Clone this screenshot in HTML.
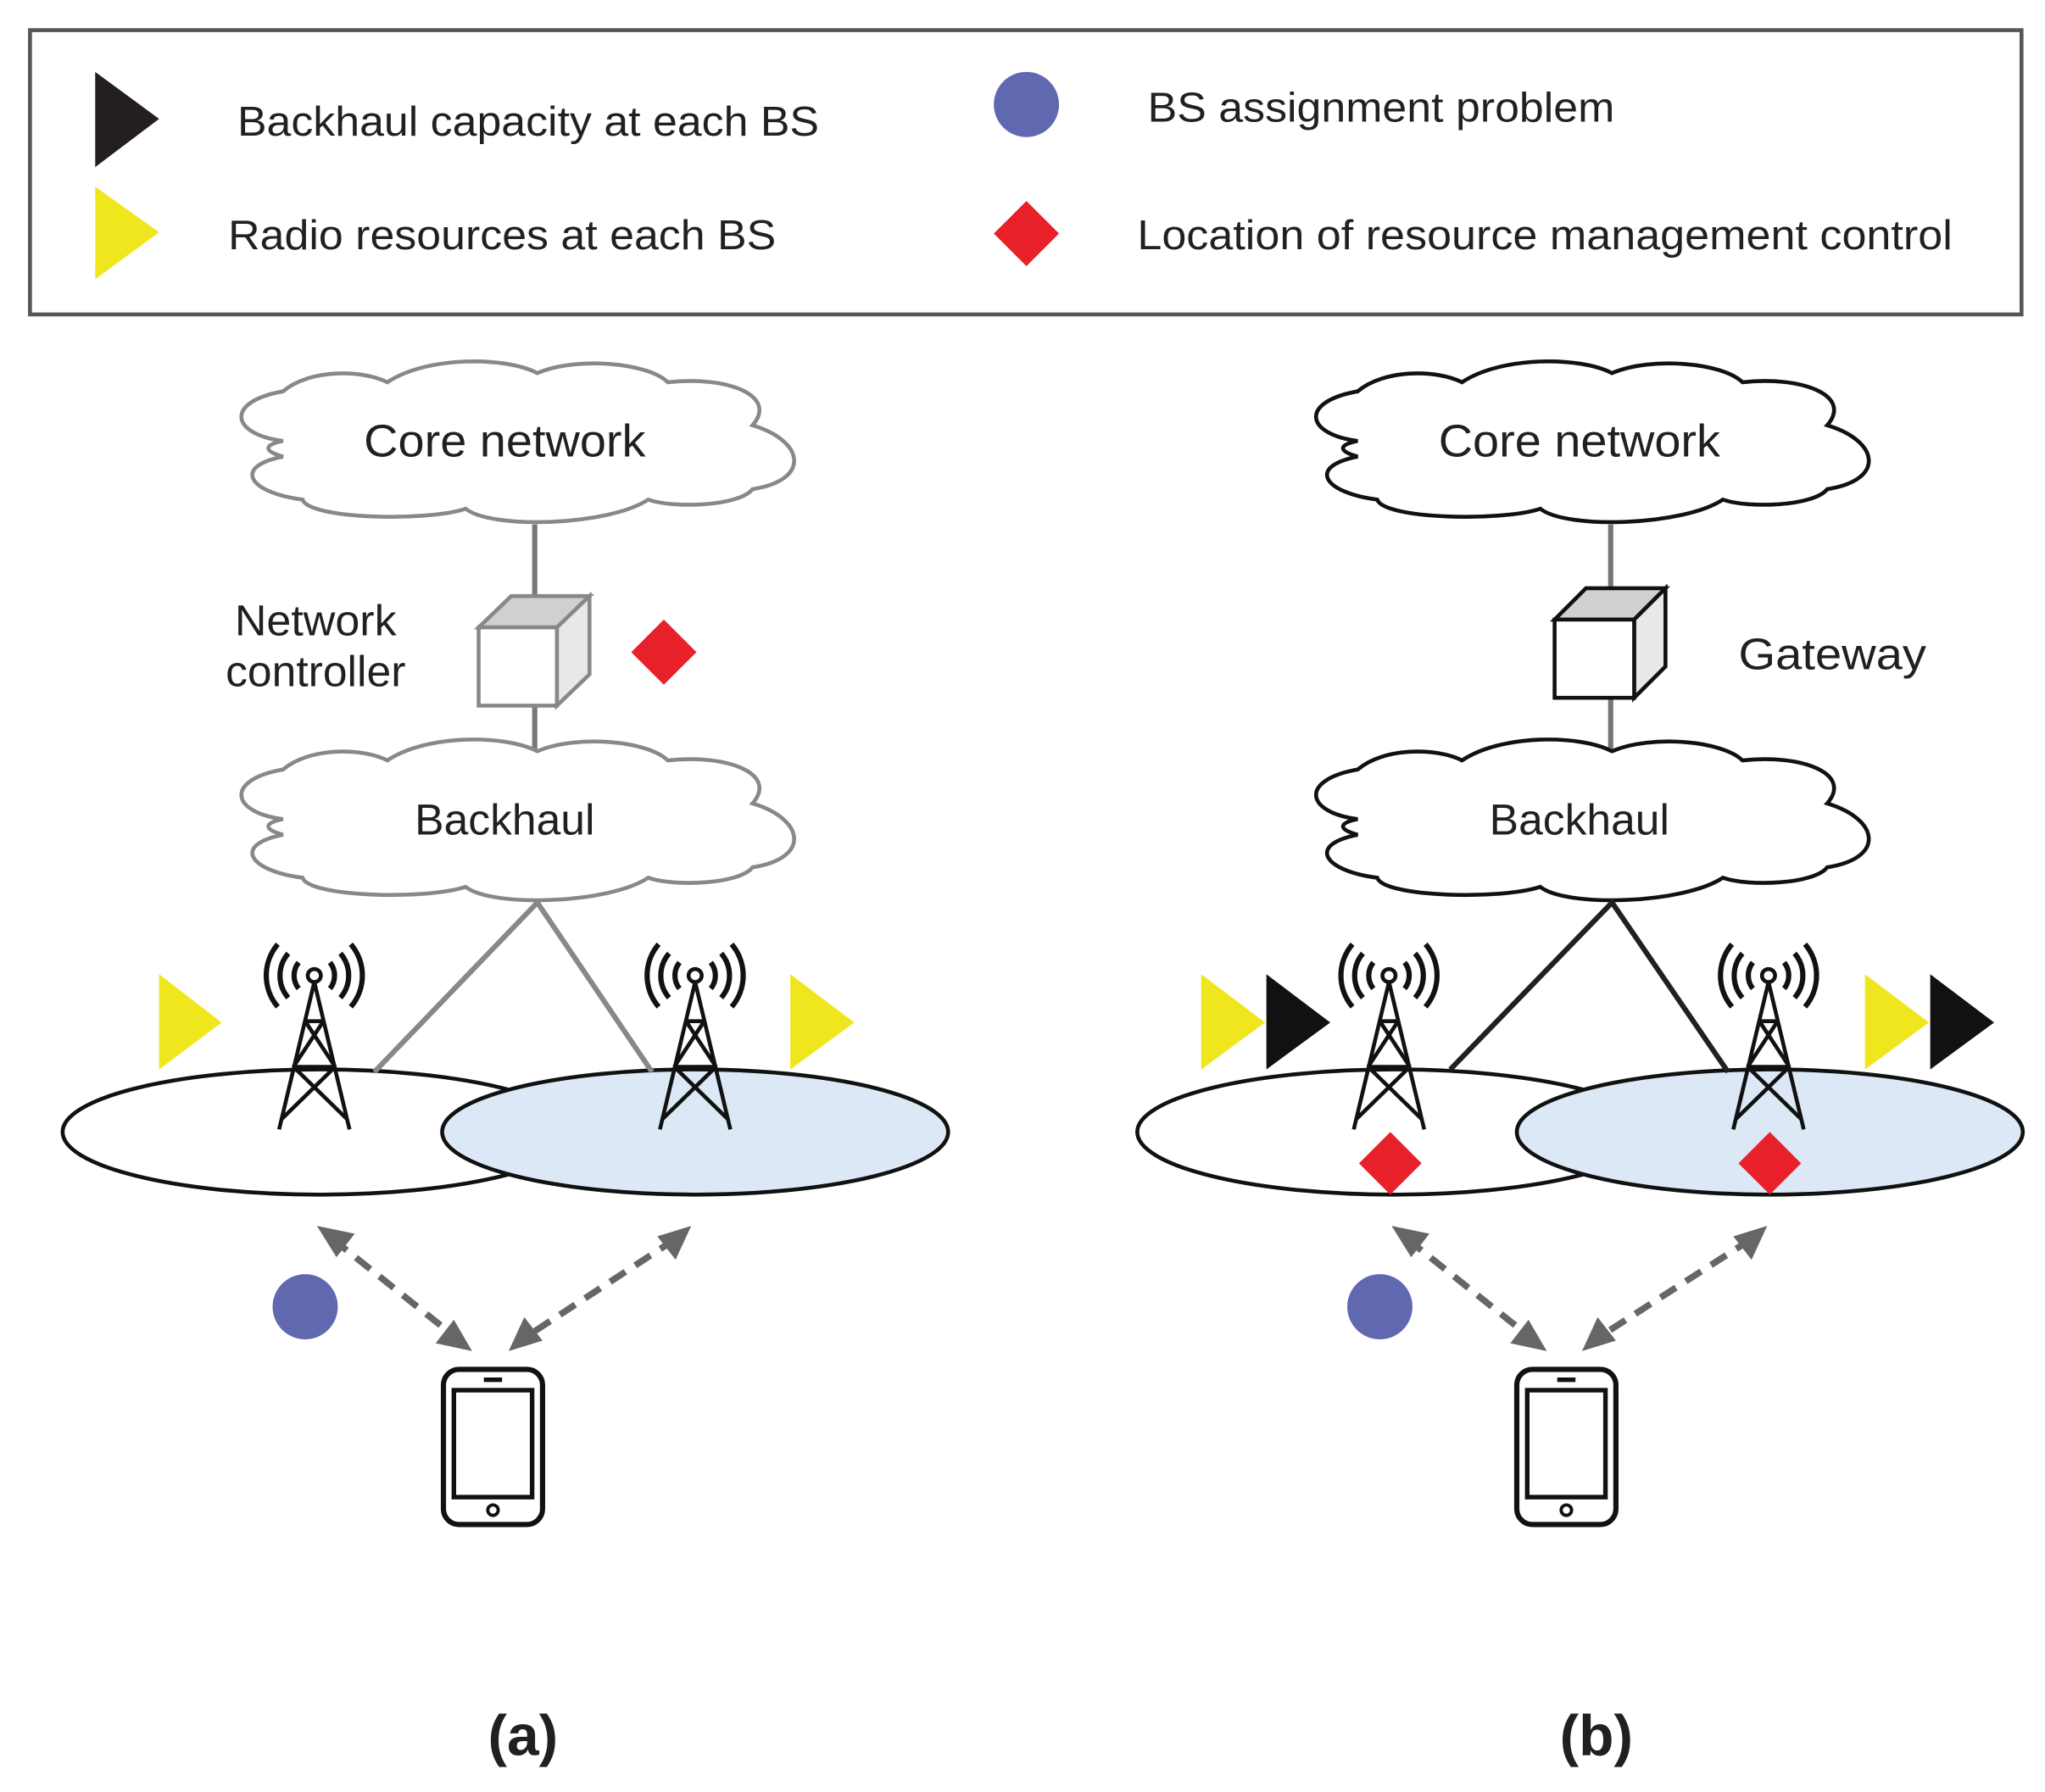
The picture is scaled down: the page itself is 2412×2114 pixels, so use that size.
<!DOCTYPE html>
<html><head><style>html,body{margin:0;padding:0;background:#fff}svg{display:block}text{font-family:"Liberation Sans",Arial,sans-serif;fill:#231f20}</style></head>
<body>
<svg width="2412" height="2114" viewBox="0 0 1568 1374" xmlns="http://www.w3.org/2000/svg">
<defs>
<path id="cloud" d="M 40,60 C 0,55 -5,30 40,22 C 60,5 100,5 120,15 C 150,-5 210,-5 235,8 C 265,-5 320,0 335,15 C 380,10 420,25 400,48 C 440,60 445,90 400,97 C 390,110 340,112 320,105 C 290,125 200,128 180,112 C 150,122 60,120 55,105 C 15,100 0,80 40,72 C 25,68 25,63 40,60 Z"/>
<g id="tower" fill="none" stroke="#111" stroke-width="3">
<circle cx="0" cy="0" r="5" stroke-width="3"/>
<path d="M -12,-10 A 16 16 0 0 0 -12,10 M 12,-10 A 16 16 0 0 1 12,10" stroke-width="4"/>
<path d="M -20,-17 A 26 26 0 0 0 -20,17 M 20,-17 A 26 26 0 0 1 20,17" stroke-width="4"/>
<path d="M -28,-24 A 37 37 0 0 0 -28,24 M 28,-24 A 37 37 0 0 1 28,24" stroke-width="4"/>
<path d="M 0,5 L -27,118 M 0,5 L 27,118 M -7,35 L 7,35 M -7,35 L 16,70 M 7,35 L -16,70 M -16,70 L 16,70 M -16,70 L 25,110 M 16,70 L -25,110"/>
</g>
<g id="phone">
<rect x="0" y="0" width="76" height="119" rx="12" fill="#fff" stroke="#111" stroke-width="4"/>
<rect x="8" y="16" width="60" height="82" fill="none" stroke="#111" stroke-width="3.5"/>
<line x1="31" y1="8" x2="45" y2="8" stroke="#111" stroke-width="3.5"/>
<circle cx="38" cy="108" r="4" fill="none" stroke="#111" stroke-width="2.5"/>
</g>
</defs>
<rect x="23" y="23" width="1527" height="218" fill="#fff" stroke="#555" stroke-width="3"/>
<polygon points="73,55 122,91 73,128" fill="#231f20"/>
<text x="182" y="104" font-size="32" textLength="446" lengthAdjust="spacingAndGlyphs">Backhaul capacity at each BS</text>
<polygon points="73,143 122,178 73,214" fill="#f0e61e"/>
<text x="175" y="191" font-size="32" textLength="420" lengthAdjust="spacingAndGlyphs">Radio resources at each BS</text>
<circle cx="787" cy="80" r="25" fill="#6068b0"/>
<text x="880" y="93" font-size="32" textLength="358" lengthAdjust="spacingAndGlyphs">BS assignment problem</text>
<polygon points="787,154 812,179 787,204 762,179" fill="#e8202a"/>
<text x="872" y="191" font-size="32" textLength="625" lengthAdjust="spacingAndGlyphs">Location of resource management control</text>

<!-- (a) -->
<use href="#cloud" transform="translate(177,278)" fill="#fff" stroke="#888" stroke-width="3"/>
<text x="279" y="350" font-size="35" textLength="216" lengthAdjust="spacingAndGlyphs">Core network</text>
<line x1="410" y1="402" x2="410" y2="462" stroke="#777" stroke-width="4"/>
<line x1="410" y1="541" x2="410" y2="576" stroke="#777" stroke-width="4"/>
<polygon points="367,481 392,457 452,457 427,481" fill="#d0d0d0" stroke="#888" stroke-width="3"/>
<polygon points="427,481 452,457 452,517 427,541" fill="#e8e8e8" stroke="#888" stroke-width="3"/>
<rect x="367" y="481" width="60" height="60" fill="#fff" stroke="#888" stroke-width="3"/>
<text x="180" y="487" font-size="33" textLength="124" lengthAdjust="spacingAndGlyphs">Network</text>
<text x="173" y="526" font-size="33" textLength="138" lengthAdjust="spacingAndGlyphs">controller</text>
<polygon points="509,475 534,500 509,525 484,500" fill="#e8202a"/>
<use href="#cloud" transform="translate(177,568)" fill="#fff" stroke="#888" stroke-width="3"/>
<text x="318" y="640" font-size="33" textLength="138" lengthAdjust="spacingAndGlyphs">Backhaul</text>
<ellipse cx="245" cy="868" rx="197" ry="48" fill="#fff" stroke="#111" stroke-width="3"/>
<ellipse cx="533" cy="868" rx="194" ry="48" fill="#dce8f5" stroke="#111" stroke-width="3"/>
<path d="M 287,822 L 412,692 L 500,822" fill="none" stroke="#888" stroke-width="4"/>
<use href="#tower" transform="translate(241,748)"/>
<use href="#tower" transform="translate(533,748)"/>
<polygon points="122,747 170,784 122,820" fill="#f0e61e"/>
<polygon points="606,747 655,784 606,820" fill="#f0e61e"/>
<g stroke="#666" stroke-width="5" stroke-dasharray="14,9" fill="none">
<line x1="255" y1="950" x2="350" y2="1026"/>
<line x1="518" y1="950" x2="402" y2="1026"/>
</g>
<g fill="#666">
<polygon points="243,940 272,946 258,964"/><polygon points="362,1036 334,1030 348,1012"/>
<polygon points="530,940 518,966 504,948"/><polygon points="390,1036 402,1010 416,1028"/>
</g>
<circle cx="234" cy="1002" r="25" fill="#6068b0"/>
<use href="#phone" transform="translate(340,1050)"/>
<text x="401" y="1346" font-size="44" font-weight="bold" text-anchor="middle">(a)</text>

<!-- (b) -->
<use href="#cloud" transform="translate(1001,278)" fill="#fff" stroke="#111" stroke-width="3"/>
<text x="1103" y="350" font-size="35" textLength="216" lengthAdjust="spacingAndGlyphs">Core network</text>
<line x1="1235" y1="402" x2="1235" y2="455" stroke="#777" stroke-width="4"/>
<line x1="1235" y1="535" x2="1235" y2="574" stroke="#777" stroke-width="4"/>
<polygon points="1192,475 1216,451 1277,451 1253,475" fill="#d0d0d0" stroke="#111" stroke-width="3"/>
<polygon points="1253,475 1277,451 1277,511 1253,535" fill="#e8e8e8" stroke="#111" stroke-width="3"/>
<rect x="1192" y="475" width="61" height="60" fill="#fff" stroke="#111" stroke-width="3"/>
<text x="1333" y="513" font-size="34" textLength="144" lengthAdjust="spacingAndGlyphs">Gateway</text>
<use href="#cloud" transform="translate(1001,568)" fill="#fff" stroke="#111" stroke-width="3"/>
<text x="1142" y="640" font-size="33" textLength="138" lengthAdjust="spacingAndGlyphs">Backhaul</text>
<ellipse cx="1069" cy="868" rx="197" ry="48" fill="#fff" stroke="#111" stroke-width="3"/>
<ellipse cx="1357" cy="868" rx="194" ry="48" fill="#dce8f5" stroke="#111" stroke-width="3"/>
<path d="M 1112,820 L 1236,692 L 1325,822" fill="none" stroke="#231f20" stroke-width="4"/>
<use href="#tower" transform="translate(1065,748)"/>
<use href="#tower" transform="translate(1356,748)"/>
<polygon points="1066,868 1090,892 1066,916 1042,892" fill="#e8202a"/>
<polygon points="1357,868 1381,892 1357,916 1333,892" fill="#e8202a"/>
<polygon points="921,747 970,784 921,820" fill="#f0e61e"/>
<polygon points="971,747 1020,784 971,820" fill="#111"/>
<polygon points="1430,747 1479,784 1430,820" fill="#f0e61e"/>
<polygon points="1480,747 1529,784 1480,820" fill="#111"/>
<g stroke="#666" stroke-width="5" stroke-dasharray="14,9" fill="none">
<line x1="1079" y1="950" x2="1174" y2="1026"/>
<line x1="1343" y1="950" x2="1225" y2="1026"/>
</g>
<g fill="#666">
<polygon points="1067,940 1096,946 1082,964"/><polygon points="1186,1036 1158,1030 1172,1012"/>
<polygon points="1355,940 1343,966 1329,948"/><polygon points="1213,1036 1225,1010 1239,1028"/>
</g>
<circle cx="1058" cy="1002" r="25" fill="#6068b0"/>
<use href="#phone" transform="translate(1163,1050)"/>
<text x="1224" y="1346" font-size="44" font-weight="bold" text-anchor="middle">(b)</text>
</svg>
</body></html>
